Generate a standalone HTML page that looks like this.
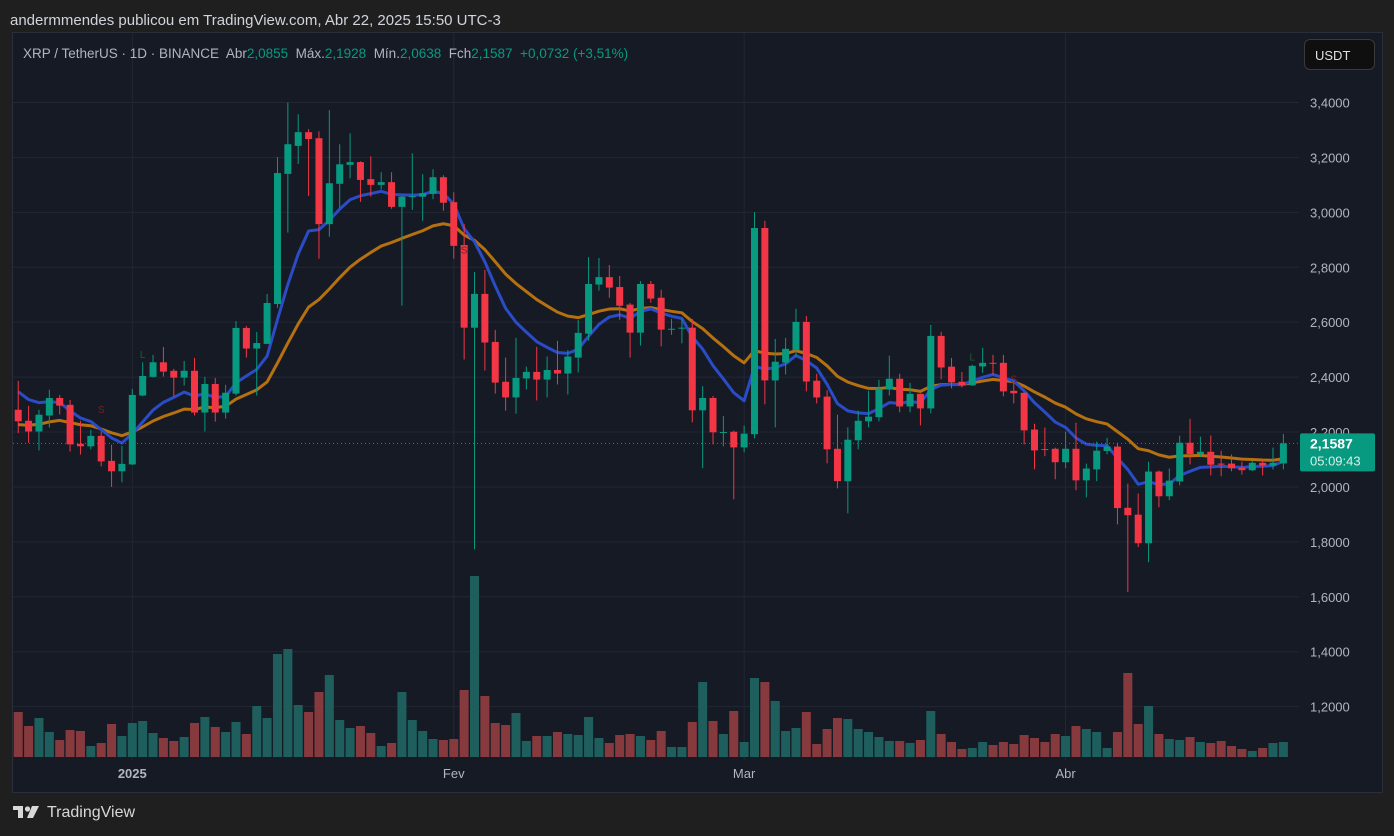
<!DOCTYPE html>
<html><head><meta charset="utf-8"><style>
html,body{margin:0;padding:0;background:#1f1f1f;width:1394px;height:836px;overflow:hidden;font-family:"Liberation Sans",sans-serif}
#top{position:absolute;left:10px;top:12px;color:#d1d4dc;font-size:15px}
#panel{position:absolute;left:12px;top:32px;width:1369px;height:759px;background:#161a25;border:1px solid #2a2e39}
#legend{position:absolute;left:23px;top:46px;color:#b2b5be;font-size:13.5px;white-space:pre}
#legend .v{color:#089981}
#usdt{position:absolute;left:1304px;top:39px;width:71px;height:31px;background:#0f0f0f;border:1px solid #3a3a3a;border-radius:6px;color:#e0e0e0;font-size:13px;line-height:31px;box-sizing:border-box;padding-left:10px}
#logo{position:absolute;left:13px;top:804px;color:#d8d8d8;font-size:16px;display:flex;align-items:center;gap:4px}
svg{position:absolute;left:0;top:0}
</style></head><body>
<div id="top">andermmendes publicou em TradingView.com, Abr 22, 2025 15:50 UTC-3</div>
<div id="panel"></div>
<svg id="chart" width="1394" height="836"></svg>
<div id="legend">XRP / TetherUS · 1D · BINANCE  Abr<span class="v">2,0855</span>  Máx.<span class="v">2,1928</span>  Mín.<span class="v">2,0638</span>  Fch<span class="v">2,1587  +0,0732 (+3,51%)</span></div>
<div id="usdt">USDT</div>
<div id="logo"><svg width="30" height="14" style="position:static" viewBox="0 0 30 14"><rect x="0" y="0" width="10" height="4" fill="#d8d8d8"/><rect x="5" y="0" width="5" height="12" fill="#d8d8d8"/><circle cx="14.5" cy="3" r="2.6" fill="#d8d8d8"/><polygon points="19,0 26,0 20,12 14,12" fill="#d8d8d8"/></svg><span>TradingView</span></div>
<script>
const open=[2.281,2.241,2.202,2.260,2.324,2.299,2.157,2.148,2.186,2.095,2.057,2.082,2.333,2.401,2.454,2.423,2.398,2.423,2.271,2.375,2.271,2.340,2.579,2.504,2.521,2.666,3.140,3.242,3.292,3.270,2.957,3.104,3.173,3.183,3.121,3.100,3.110,3.020,3.058,3.057,3.067,3.128,3.037,2.881,2.580,2.703,2.528,2.383,2.326,2.395,2.419,2.391,2.426,2.413,2.471,2.558,2.737,2.764,2.728,2.664,2.562,2.739,2.689,2.575,2.578,2.580,2.279,2.324,2.199,2.201,2.144,2.192,2.943,2.388,2.453,2.499,2.601,2.387,2.329,2.139,2.021,2.170,2.239,2.254,2.355,2.394,2.293,2.339,2.286,2.550,2.438,2.383,2.370,2.439,2.452,2.452,2.350,2.343,2.209,2.138,2.139,2.090,2.139,2.024,2.064,2.131,2.147,1.924,1.899,1.795,2.056,1.966,2.020,2.161,2.120,2.128,2.085,2.085,2.070,2.061,2.088,2.078,2.0855];
const high=[2.386,2.295,2.281,2.354,2.335,2.317,2.241,2.208,2.202,2.154,2.150,2.357,2.454,2.481,2.510,2.430,2.459,2.470,2.401,2.397,2.372,2.604,2.586,2.564,2.703,3.201,3.400,3.357,3.303,3.295,3.372,3.248,3.288,3.186,3.204,3.146,3.146,3.060,3.215,3.139,3.157,3.135,3.073,2.957,2.783,2.790,2.572,2.471,2.543,2.438,2.510,2.475,2.532,2.499,2.608,2.837,2.834,2.808,2.768,2.670,2.750,2.750,2.718,2.612,2.612,2.612,2.367,2.331,2.258,2.205,2.223,3.001,2.969,2.539,2.543,2.649,2.623,2.412,2.352,2.263,2.217,2.278,2.350,2.390,2.478,2.412,2.379,2.340,2.590,2.565,2.470,2.419,2.445,2.507,2.481,2.481,2.387,2.343,2.230,2.216,2.143,2.201,2.234,2.085,2.165,2.179,2.161,2.012,1.976,2.092,2.060,2.067,2.187,2.248,2.183,2.187,2.132,2.118,2.092,2.096,2.099,2.143,2.1928];
const low=[2.196,2.161,2.133,2.216,2.264,2.129,2.118,2.137,2.075,2.000,2.017,2.080,2.330,2.398,2.402,2.329,2.369,2.260,2.202,2.238,2.249,2.333,2.471,2.333,2.520,2.652,2.926,3.176,3.060,2.831,2.911,3.016,3.124,3.038,3.057,3.084,3.013,2.660,3.009,2.969,3.048,3.006,2.831,2.464,1.773,2.424,2.340,2.278,2.267,2.355,2.315,2.326,2.373,2.337,2.417,2.533,2.715,2.689,2.609,2.471,2.515,2.671,2.512,2.554,2.523,2.235,2.068,2.155,2.148,1.955,2.126,2.177,2.301,2.217,2.410,2.475,2.348,2.304,2.086,1.995,1.904,2.137,2.217,2.239,2.333,2.272,2.272,2.224,2.268,2.392,2.359,2.362,2.368,2.416,2.409,2.330,2.304,2.155,2.064,2.112,2.028,2.068,1.988,1.962,2.021,2.119,1.864,1.617,1.781,1.726,1.926,1.952,2.006,2.082,2.108,2.042,2.039,2.057,2.045,2.058,2.042,2.064,2.0638];
const close=[2.239,2.202,2.263,2.324,2.296,2.155,2.148,2.186,2.093,2.057,2.084,2.335,2.404,2.454,2.420,2.398,2.423,2.271,2.375,2.271,2.343,2.579,2.504,2.524,2.670,3.143,3.248,3.292,3.267,2.957,3.106,3.175,3.183,3.118,3.100,3.110,3.020,3.057,3.059,3.070,3.128,3.035,2.878,2.580,2.703,2.526,2.380,2.326,2.397,2.419,2.391,2.426,2.413,2.475,2.561,2.739,2.764,2.726,2.660,2.562,2.739,2.686,2.573,2.576,2.580,2.279,2.324,2.199,2.200,2.144,2.194,2.943,2.388,2.456,2.503,2.601,2.384,2.326,2.137,2.021,2.172,2.241,2.256,2.358,2.394,2.293,2.339,2.286,2.550,2.435,2.381,2.370,2.441,2.452,2.451,2.348,2.341,2.206,2.133,2.137,2.090,2.139,2.024,2.067,2.132,2.147,1.923,1.897,1.795,2.056,1.966,2.023,2.161,2.120,2.128,2.081,2.082,2.068,2.061,2.088,2.078,2.088,2.1587];
const volume=[45,31,39,25,17,27,26,11,14,33,21,34,36,24,19,16,20,34,40,30,25,35,23,51,39,103,108,52,45,65,82,37,29,31,24,11,14,65,37,26,18,17,18,67,181,61,34,32,44,16,21,21,25,23,22,40,19,14,22,23,21,17,26,10,10,35,75,36,23,46,15,79,75,56,26,29,45,13,28,39,38,28,25,20,16,16,14,17,46,23,15,8,9,15,12,15,13,22,19,15,23,21,31,28,25,9,25,84,33,51,23,18,17,20,15,14,16,11,8,6,9,14,15];
const priceTicks=[3.4,3.2,3.0,2.8,2.6,2.4,2.2,2.0,1.8,1.6,1.4,1.2];
const monthLabels=["2025","Fev","Mar","Abr"];
const monthIndex=[11,42,70,101];
const signalText=["S","L","S","L","S"];
const signalIndex=[8,12,43,92,96];
const signalPrice=[2.27,2.47,2.85,2.46,2.38];
const emaFastSeed=2.347, emaSlowSeed=2.227;

const NS="http://www.w3.org/2000/svg";
const svg=document.getElementById('chart');
const X=i=>132.3+(i-11)*10.37;
const Y=p=>102.5+(3.4-p)*274.6;
const VB=757, VS=1.0;
function mk(t,a,parent){const e=document.createElementNS(NS,t);for(const k in a)e.setAttribute(k,a[k]);(parent||svg).appendChild(e);return e;}
const defs=mk('defs',{});const cp=mk('clipPath',{id:'plot'},defs);mk('rect',{x:13,y:33,width:1286,height:727},cp);
const grid=mk('g',{});


priceTicks.forEach(p=>{const l=mk('line',{x1:13,x2:1299,y1:Y(p),y2:Y(p),stroke:'#232733','stroke-width':1},grid);});
monthIndex.forEach(i=>{mk('line',{x1:X(i),x2:X(i),y1:33,y2:760,stroke:'#232733','stroke-width':1},grid);});
const plot=mk('g',{'clip-path':'url(#plot)'});
// volume
for(let i=0;i<close.length;i++){const up=close[i]>=open[i];const h=volume[i]*VS;
const r=mk('rect',{x:X(i)-4.5,y:VB-h,width:9,height:h,fill:up?'#1e5f5e':'#873a3e'},plot);

}
// MAs
function ema(seed,n){const a=2/(n+1);let v=seed;return close.map((c,i)=>{if(i>0)v=v+a*(c-v);return v;});}
const fast=ema(emaFastSeed,9), slow=ema(emaSlowSeed,21);
const ps=mk('polyline',{points:slow.map((v,i)=>X(i)+','+Y(v)).join(' '),fill:'none',stroke:'#b5700f','stroke-width':3,'stroke-linejoin':'round'},plot);


const pf=mk('polyline',{points:fast.map((v,i)=>X(i)+','+Y(v)).join(' '),fill:'none',stroke:'#2a4cc6','stroke-width':3,'stroke-linejoin':'round'},plot);


// candles
for(let i=0;i<close.length;i++){const up=close[i]>=open[i];const c=up?'#089981':'#f23645';
const g=mk('g',{},plot);


mk('line',{x1:X(i),x2:X(i),y1:Y(high[i]),y2:Y(low[i]),stroke:c,'stroke-width':1},g);
const t=Y(Math.max(open[i],close[i])),b=Y(Math.min(open[i],close[i]));
mk('rect',{x:X(i)-3.5,y:t,width:7,height:Math.max(1,b-t),fill:c},g);}
// signals
signalText.forEach((s,k)=>{const t=mk('text',{x:X(signalIndex[k]),y:Y(signalPrice[k]),fill:s==='L'?'#1f5e2a':'#7a1d24','font-size':10,'text-anchor':'middle','font-family':'Liberation Sans, sans-serif'},plot);t.textContent=s;

});
// last price line
const lp=close[close.length-1];
const dl=mk('line',{x1:13,x2:1299,y1:Y(lp),y2:Y(lp),stroke:'#089981','stroke-width':1,'stroke-dasharray':'1 3'});


// price axis labels
priceTicks.forEach(p=>{const t=mk('text',{x:1310,y:Y(p)+5,fill:'#b2b5be','font-size':13,'font-family':'Liberation Sans, sans-serif'});t.textContent=p.toFixed(4).replace('.',',');

});
const badge=mk('g',{});


const by=Y(lp);
mk('rect',{x:1300,y:by-10,width:75,height:38,fill:'#089981',rx:2},badge);
const bt=mk('text',{x:1310,y:by+5,fill:'#ffffff','font-size':14,'font-weight':'bold','font-family':'Liberation Sans, sans-serif'},badge);bt.textContent=lp.toFixed(4).replace('.',',');
const bt2=mk('text',{x:1310,y:by+22,fill:'#d8f0ea','font-size':13,'font-family':'Liberation Sans, sans-serif'},badge);bt2.textContent='05:09:43';
// time axis
monthLabels.forEach((m,k)=>{const t=mk('text',{x:X(monthIndex[k]),y:778,fill:'#b2b5be','font-size':13,'text-anchor':'middle','font-weight':k===0?'bold':'normal','font-family':'Liberation Sans, sans-serif'});t.textContent=m;

});
</script>
</body></html>
